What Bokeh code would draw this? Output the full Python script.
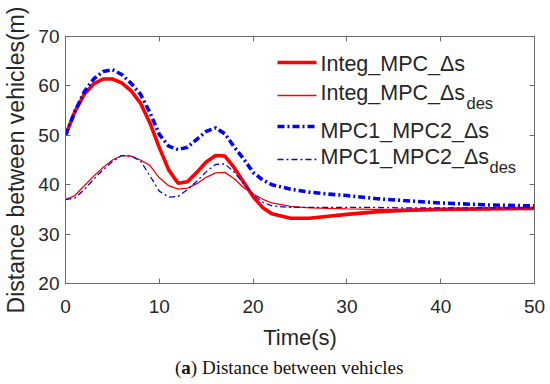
from bokeh.plotting import figure
from bokeh.models import Range1d, FixedTicker, LinearAxis, Label, Arrow, Div
from bokeh.layouts import column
from bokeh.embed import file_html
from bokeh.resources import INLINE

# ---- data ----
time_s = [0, 1, 2, 3, 4, 5, 6, 7, 8, 9, 10, 11, 12, 13, 14, 15, 16, 17, 18, 19,
          20, 21, 22, 24, 26, 28, 30, 33, 36, 40, 45, 50]
integ_ds = [50.0, 54.8, 58.3, 60.4, 61.4, 61.4, 60.6, 59.0, 56.5, 52.5, 47.5, 43.0,
            40.3, 40.6, 42.5, 44.6, 45.9, 45.8, 43.4, 40.5, 37.6, 35.4, 34.1, 33.2,
            33.2, 33.6, 34.0, 34.5, 34.8, 35.0, 35.1, 35.2]
integ_ds_des = [37.0, 37.8, 39.8, 41.7, 43.5, 45.0, 45.9, 45.8, 45.0, 43.9, 41.4, 39.8,
                39.1, 39.3, 40.2, 41.5, 42.4, 42.5, 41.2, 39.4, 38.1, 37.1, 36.3, 35.6,
                35.3, 35.2, 35.1, 35.0, 35.0, 35.0, 35.0, 35.0]
mpc_ds = [50.0, 54.8, 58.8, 61.4, 62.9, 63.3, 62.3, 60.5, 58.3, 54.6, 50.2, 47.8,
          47.1, 47.6, 49.2, 50.8, 51.5, 50.3, 47.6, 45.2, 42.5, 41.0, 40.0, 39.1,
          38.5, 38.1, 37.8, 37.2, 36.8, 36.3, 35.9, 35.7]
mpc_ds_des = [37.0, 37.3, 39.0, 41.1, 43.0, 44.7, 45.9, 45.8, 44.8, 41.8, 38.7, 37.5,
              37.6, 39.0, 40.7, 42.6, 44.1, 44.2, 42.5, 40.2, 38.0, 36.5, 35.7, 35.4,
              35.4, 35.4, 35.4, 35.4, 35.3, 35.3, 35.3, 35.3]
x_ticks = [0, 10, 20, 30, 40, 50]
y_ticks = [20, 30, 40, 50, 60, 70]
legend_names = ["Integ_MPC_\u0394s", "Integ_MPC_\u0394s", "MPC1_MPC2_\u0394s", "MPC1_MPC2_\u0394s"]
caption_html = "(<b>a</b>) Distance between vehicles"

RED = "#ff0000"
BLUE = "#0000ff"
AX = "#6a6a6a"
TXT = "#262626"
SANS = "Liberation Sans"

p = figure(width=550, height=352, output_backend="svg", toolbar_location=None,
           x_range=Range1d(0, 50), y_range=Range1d(20, 70),
           min_border_left=65, min_border_right=16, min_border_top=36, min_border_bottom=67)
p.grid.visible = False
p.outline_line_color = AX
p.background_fill_color = "white"

def style_axis(ax, ticks):
    ax.ticker = FixedTicker(ticks=ticks)
    ax.major_tick_in = 5
    ax.major_tick_out = 0
    ax.minor_tick_line_color = None
    ax.axis_line_color = AX
    ax.major_tick_line_color = AX
    ax.major_label_text_font = SANS
    ax.major_label_text_font_size = "19px"
    ax.major_label_text_color = TXT
    ax.axis_label_text_font = SANS
    ax.axis_label_text_font_style = "normal"
    ax.axis_label_text_color = TXT

style_axis(p.xaxis[0], x_ticks)
style_axis(p.yaxis[0], y_ticks)
p.xaxis[0].major_label_standoff = 16
p.yaxis[0].major_label_standoff = 6
p.xaxis[0].axis_label = "Time(s)"
p.xaxis[0].axis_label_text_font_size = "22px"
p.xaxis[0].axis_label_standoff = 9
p.yaxis[0].axis_label = "Distance between vehicles(m)"
p.yaxis[0].axis_label_text_font_size = "23px"
p.yaxis[0].axis_label_standoff = 6

top_ax = LinearAxis()
right_ax = LinearAxis()
for ax, tk in ((top_ax, x_ticks), (right_ax, y_ticks)):
    style_axis(ax, tk)
    ax.major_label_overrides = {t: "" for t in tk}
    ax.major_label_standoff = 0
p.add_layout(top_ax, "above")
p.add_layout(right_ax, "right")

# ---- curves ----
p.line(time_s, integ_ds, line_color=RED, line_width=3.6)
p.line(time_s, integ_ds_des, line_color=RED, line_width=1.3)
p.line(time_s, mpc_ds, line_color=BLUE, line_width=3.6, line_dash="7 3 2 3")
p.line(time_s, mpc_ds_des, line_color=BLUE, line_width=1.3, line_dash="6 3 2 3")

# ---- custom legend (screen units relative to plot frame) ----
leg_styles = [(RED, 3.6, "solid"), (RED, 1.3, "solid"),
              (BLUE, 3.6, "7 3 2 3"), (BLUE, 1.3, "6 3 2 3")]
line_y = [221, 188, 157, 124]
text_y = [219.5, 191, 152.5, 126.5]
for name, (c, w, d), ly, ty in zip(legend_names, leg_styles, line_y, text_y):
    p.add_layout(Arrow(start=None, end=None, x_start=212, y_start=ly, x_end=251, y_end=ly,
                       start_units="screen", end_units="screen",
                       line_color=c, line_width=w, line_dash=d))
    p.add_layout(Label(x=255, y=ty, x_units="screen", y_units="screen", text=name,
                       text_font=SANS, text_font_size="21.5px", text_color=TXT,
                       text_baseline="middle", text_align="left"))
for sx, sy in ((401, 181), (424, 116.5)):
    p.add_layout(Label(x=sx, y=sy, x_units="screen", y_units="screen", text="des",
                       text_font=SANS, text_font_size="16.5px", text_color=TXT,
                       text_baseline="middle", text_align="left"))

# ---- caption below the figure ----
cap = Div(text=caption_html, width=550, height=32, margin=(0, 0, 0, 0),
          styles={"font-family": "Liberation Serif", "font-size": "19px",
                  "color": "#111111", "padding-left": "175px", "padding-top": "6px",
                  "line-height": "20px", "white-space": "nowrap"})

layout = column(p, cap, spacing=0)
open("out.html", "w").write(file_html(layout, INLINE))
